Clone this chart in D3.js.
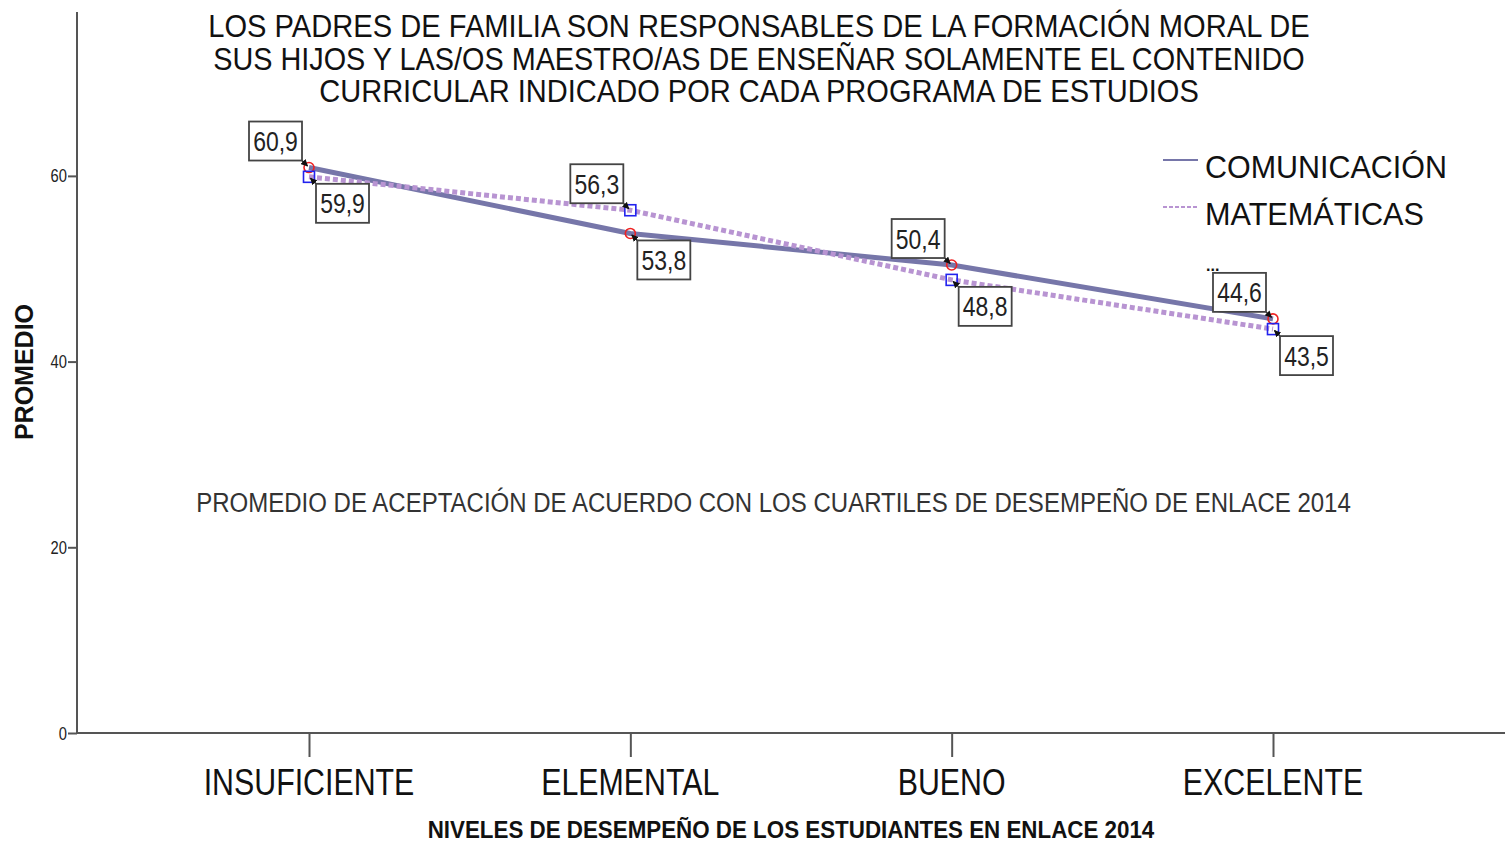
<!DOCTYPE html>
<html>
<head>
<meta charset="utf-8">
<script src="https://cdn.jsdelivr.net/npm/d3@7/dist/d3.min.js"></script>
<style>
  html, body { margin: 0; padding: 0; background: #fff; }
  svg { display: block; }
  text { font-family: "Liberation Sans", Arial, sans-serif; }
</style>
</head>
<body>
<svg id="chart" width="1505" height="843"></svg>
<script>
// Performance levels and mean acceptance per subject
const categories = ["INSUFICIENTE", "ELEMENTAL", "BUENO", "EXCELENTE"];
const comunicacion = [60.9, 53.8, 50.4, 44.6];
const matematicas = [59.9, 56.3, 48.8, 43.5];
const yTicks = [0, 20, 40, 60];
const seriesNames = ["COMUNICACIÓN", "MATEMÁTICAS"];
const titleLines = [
  "LOS PADRES DE FAMILIA SON RESPONSABLES DE LA FORMACIÓN MORAL DE",
  "SUS HIJOS Y LAS/OS MAESTRO/AS DE ENSEÑAR SOLAMENTE EL CONTENIDO",
  "CURRICULAR INDICADO POR CADA PROGRAMA DE ESTUDIOS"
];
const subtitle = "PROMEDIO DE ACEPTACIÓN DE ACUERDO CON LOS CUARTILES DE DESEMPEÑO DE ENLACE 2014";
const xTitle = "NIVELES DE DESEMPEÑO DE LOS ESTUDIANTES EN ENLACE 2014";
const yTitle = "PROMEDIO";

const svg = d3.select("#chart");
const fmt = v => d3.format(".1f")(v).replace(".", ",");
const NARROW = 0.82;

// Condensed text: draws a label inside a horizontally squeezed group
function narrowText(parent, tx, ty, str, opts) {
  const g = parent.append("g").attr("transform", `translate(${tx},${ty})`);
  const t = g.append("text").attr("x", 0).attr("y", 0)
    .attr("text-anchor", opts.anchor || "start")
    .attr("font-size", opts.size).attr("fill", opts.fill || "#111")
    .attr("font-weight", opts.weight || "normal").text(str);
  let sx = opts.factor || NARROW;
  if (opts.width) sx = opts.width / t.node().getComputedTextLength();
  g.attr("transform", `translate(${tx},${ty}) scale(${sx},1)`);
  return g;
}

const x = d3.scalePoint().domain(categories).range([77, 1505]).padding(0.722);
const y = d3.scaleLinear().domain([0, 77.65]).range([733, 12]);

const commColor = "#7676a9";
const mathColor = "#b894d2";

// Arrowhead for the label leaders
svg.append("defs").append("marker")
  .attr("id", "arr").attr("viewBox", "0 0 10 10")
  .attr("refX", 9).attr("refY", 5)
  .attr("markerWidth", 5).attr("markerHeight", 5)
  .attr("orient", "auto")
  .append("path").attr("d", "M0,0 L10,5 L0,10 z").attr("fill", "#111");

// Y axis
const yAxis = svg.append("g").attr("transform", "translate(77,0)")
  .call(d3.axisLeft(y).tickValues(yTicks).tickSize(9).tickFormat(() => ""));
yAxis.select(".domain").attr("d", `M0,${y.range()[1]}V${y(0)}`).attr("stroke", "#555").attr("stroke-width", 2);
yAxis.selectAll(".tick line").attr("stroke", "#555").attr("stroke-width", 2);
yTicks.forEach(v => narrowText(svg, 67, y(v) + 6.5, d3.format("d")(v), { anchor: "end", size: 18, fill: "#222" }));

// X axis
const xAxis = svg.append("g").attr("transform", `translate(0,${y(0)})`)
  .call(d3.axisBottom(x).tickSize(24).tickFormat(() => ""));
xAxis.select(".domain").attr("d", "M77,0H1505").attr("stroke", "#555").attr("stroke-width", 2);
xAxis.selectAll(".tick line").attr("stroke", "#555").attr("stroke-width", 2);
categories.forEach(c => narrowText(svg, x(c), 795, c, { anchor: "middle", size: 37, fill: "#111" }));

// Lines
const line = d3.line().x((d, i) => x(categories[i])).y(d => y(d));
svg.append("path").datum(comunicacion).attr("d", line)
  .attr("fill", "none").attr("stroke", commColor).attr("stroke-width", 5).attr("stroke-linejoin", "round");
svg.append("path").datum(matematicas).attr("d", line)
  .attr("fill", "none").attr("stroke", mathColor).attr("stroke-width", 5).attr("stroke-dasharray", "5,3");

// Markers
svg.append("g").selectAll("circle").data(comunicacion).join("circle")
  .attr("cx", (d, i) => x(categories[i])).attr("cy", d => y(d)).attr("r", 5)
  .attr("fill", "none").attr("stroke", "#ee2222").attr("stroke-width", 1.6);
svg.append("g").selectAll("rect").data(matematicas).join("rect")
  .attr("x", (d, i) => x(categories[i]) - 5.5).attr("y", d => y(d) - 5.5)
  .attr("width", 11).attr("height", 11)
  .attr("fill", "none").attr("stroke", "#2222ee").attr("stroke-width", 1.6);

// Value labels: the higher value of each pair sits above-left, the lower below-right
const boxW = 53, boxH = 39, gap = 7;
const labels = [];
categories.forEach((c, i) => {
  const a = comunicacion[i], b = matematicas[i];
  labels.push({ cat: c, v: a, up: a >= b });
  labels.push({ cat: c, v: b, up: b > a });
});
const lg = svg.append("g");
labels.forEach(l => {
  const px = x(l.cat), py = y(l.v);
  const bx = l.up ? px - gap - boxW : px + gap;
  const by = l.up ? py - gap - boxH : py + gap;
  const cx = l.up ? bx + boxW : bx;
  const cy = l.up ? by + boxH : by;
  lg.append("line").attr("x1", cx).attr("y1", cy)
    .attr("x2", px + (l.up ? -1.5 : 1.5)).attr("y2", py + (l.up ? -1.5 : 1.5))
    .attr("stroke", "#111").attr("stroke-width", 1.4).attr("marker-end", "url(#arr)");
  lg.append("rect").attr("x", bx).attr("y", by).attr("width", boxW).attr("height", boxH)
    .attr("fill", "#fff").attr("stroke", "#444").attr("stroke-width", 1.8);
  narrowText(lg, bx + boxW / 2, by + boxH / 2 + 10, fmt(l.v), { anchor: "middle", size: 28, fill: "#222" });
});

// Title
const titleLens = [1102, 1092, 880];
titleLines.forEach((t, i) => {
  narrowText(svg, 759, 37 + i * 32.5, t, { anchor: "middle", size: 31, fill: "#111", width: titleLens[i] });
});

// Subtitle
narrowText(svg, 773.5, 512, subtitle, { anchor: "middle", size: 28, fill: "#333", width: 1155 });

// Axis titles
narrowText(svg, 791, 838, xTitle, { anchor: "middle", size: 23, weight: "bold", fill: "#111", width: 727 });
svg.append("text")
  .attr("transform", "translate(33,372) rotate(-90)")
  .attr("text-anchor", "middle").attr("font-size", 25).attr("font-weight", "bold").attr("fill", "#111")
  .text(yTitle);

// Legend
const leg = svg.append("g");
const legY = [160, 207];
const legLen = [242, 219];
seriesNames.forEach((name, i) => {
  leg.append("line").attr("x1", 1163).attr("x2", 1198).attr("y1", legY[i]).attr("y2", legY[i])
    .attr("stroke", i === 0 ? commColor : mathColor).attr("stroke-width", 2)
    .attr("stroke-dasharray", i === 0 ? null : "4,2");
  narrowText(leg, 1205, legY[i] + 18, name, { size: 31, fill: "#111", width: legLen[i] });
});
leg.append("text").attr("x", 1206).attr("y", 271)
  .attr("font-size", 16).attr("font-weight", "bold").attr("fill", "#111").text("...");
</script>
</body>
</html>
